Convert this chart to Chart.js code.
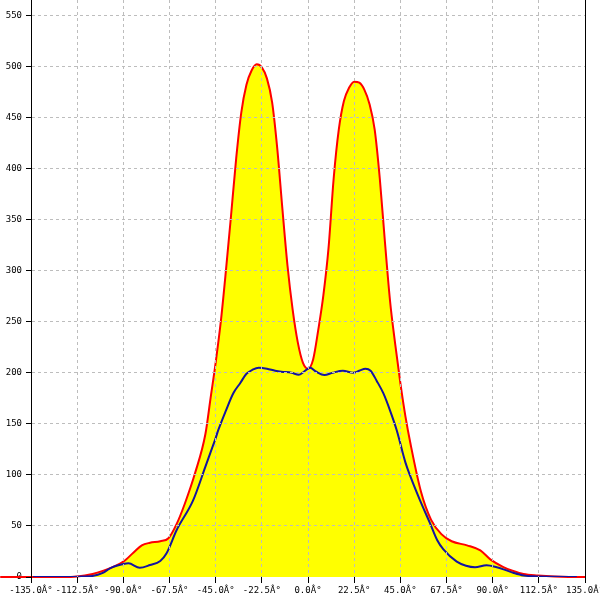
<!DOCTYPE html>
<html>
<head>
<meta charset="utf-8">
<script src="https://cdn.jsdelivr.net/npm/chart.js@4.4.0/dist/chart.umd.min.js"></script>
<style>
  html, body { margin: 0; padding: 0; background: #fff; }
  #wrap { width: 600px; height: 600px; }
</style>
</head>
<body>
<div id="wrap"><canvas id="chart"></canvas></div>
<script>
// tick labels on the x axis (degrees)
const xTicks = [-135, -112.5, -90, -67.5, -45, -22.5, 0, 22.5, 45, 67.5, 90, 112.5, 135];
const yTicks = [0, 50, 100, 150, 200, 250, 300, 350, 400, 450, 500, 550];

// upper (red, yellow filled) curve
const redAngles = [-150, -135, -120, -112.5, -105, -100, -95, -90, -85, -81, -77, -72, -68, -64, -60, -55, -50,
  -47.5, -45, -42.5, -40, -37.5, -35, -32.5, -30, -27.5, -25, -22.5, -20, -17.5, -15, -12.5,
  -10, -7.5, -5, -2.5, 0, 2.5, 5, 7.5, 10, 12.5, 15, 17.5, 20, 22.5, 25, 27.5, 30, 32.5, 35, 37.5,
  40, 42.5, 45, 47.5, 50, 55, 60, 65, 70, 77.5, 84, 89, 95, 100, 105, 112, 120, 135, 150];
const redValues = [0, 0, 0, 0.5, 3, 6, 10, 15, 24, 31, 33.5, 35, 38, 52, 72, 102, 140,
  175, 210, 250, 300, 354, 410, 455, 482, 496, 502, 499, 488, 465, 420, 361,
  305, 262, 230, 210, 204, 213, 242, 276, 322, 390, 438, 466, 479, 485, 484, 477, 463, 438, 390, 328,
  270, 228, 190, 157, 130, 84, 56, 42, 35, 31, 26, 17, 10, 6, 3, 1.5, 0.5, 0, 0];

// lower (blue) curve
const blueAngles = [-134, -120, -110, -105, -100, -96.5, -90, -87.5, -82, -77, -72, -69, -64, -56, -50, -47.5, -45,
  -43.7, -40, -36.4, -33, -30, -27, -24, -20, -16, -13, -8, -4.5, -2, 1, 4, 8, 12, 17, 22, 25, 28, 30.5, 33.5,
  36.7, 40, 43.2, 47.5, 50, 54.6, 59.5, 63, 66, 72.5, 77, 81.4, 87, 92, 96, 100, 105, 110, 120, 131];
const blueValues = [0, 0, 0.5, 1, 4, 8.5, 12.7, 13.4, 9, 11.7, 15.7, 23, 46, 75, 108, 122, 136,
  144, 163, 180, 190, 199, 203, 205, 204, 202, 201, 200, 198, 201, 205, 201, 197.7, 200, 202, 200, 202, 204, 202, 192,
  180, 163, 144, 112, 98, 75, 52.5, 36, 27, 15, 11, 9.5, 11.4, 9.5, 7, 4.2, 1.5, 0.7, 0.2, 0];

const toPts = (xs, ys) => xs.map((x, i) => ({ x: x, y: ys[i] }));
const tickFont = { family: "'DejaVu Sans Mono', monospace", size: 9 };
const gridGray = '#bdbdbd';

new Chart(document.getElementById('chart'), {
  type: 'line',
  data: {
    datasets: [
      {
        data: toPts(blueAngles, blueValues),
        borderColor: '#1414a0',
        borderWidth: 2,
        pointRadius: 0,
        fill: false,
        cubicInterpolationMode: 'monotone',
        order: 0
      },
      {
        data: toPts(redAngles, redValues),
        borderColor: '#ff0000',
        backgroundColor: '#ffff00',
        borderWidth: 2,
        pointRadius: 0,
        fill: 'origin',
        clip: false,
        cubicInterpolationMode: 'monotone',
        order: 1
      }
    ]
  },
  options: {
    responsive: true,
    maintainAspectRatio: false,
    animation: false,
    layout: { padding: { top: 0, right: 15, bottom: 0, left: 0 } },
    plugins: { legend: { display: false }, tooltip: { enabled: false } },
    scales: {
      x: {
        type: 'linear',
        min: -135,
        max: 135,
        afterBuildTicks: (s) => { s.ticks = xTicks.map(v => ({ value: v })); },
        afterFit: (s) => { s.height = 23; s.paddingLeft = 0; s.paddingRight = 0; },
        ticks: {
          autoSkip: false,
          maxRotation: 0,
          color: '#000',
          font: tickFont,
          padding: 2,
          callback: (v) => v.toFixed(1) + 'Â°'
        },
        grid: {
          color: (c) => (c.tick && Math.abs(c.tick.value) === 135) ? 'rgba(0,0,0,0)' : gridGray,
          tickColor: '#000',
          tickLength: 6,
          tickBorderDash: [],
          z: 1
        },
        // the red series runs along the zero line, so no separate border here
        border: { display: false, dash: [3, 3] }
      },
      y: {
        min: 0,
        max: 565,
        afterBuildTicks: (s) => { s.ticks = yTicks.map(v => ({ value: v })); },
        afterFit: (s) => { s.width = 31; s.paddingTop = 0; s.paddingBottom = 0; },
        ticks: { color: '#000', font: tickFont, padding: 4 },
        grid: {
          color: (c) => (c.tick && c.tick.value === 0) ? 'rgba(0,0,0,0)' : gridGray,
          tickColor: '#000',
          tickLength: 5,
          tickBorderDash: [],
          z: 1
        },
        border: { color: '#000', width: 1, dash: [3, 3], z: 1 }
      },
      yRight: {
        position: 'right',
        min: 0,
        max: 565,
        afterFit: (s) => { s.width = 0; },
        ticks: { display: false },
        grid: { display: false },
        border: { display: true, color: '#000', width: 1, z: 1 }
      }
    }
  }
});
</script>
</body>
</html>
